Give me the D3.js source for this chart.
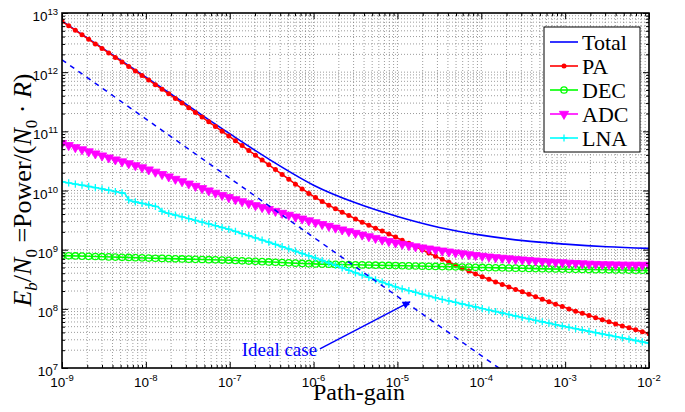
<!DOCTYPE html>
<html><head><meta charset="utf-8">
<script src="https://cdn.jsdelivr.net/npm/d3@7"></script>
<style>body{margin:0;background:#fff} svg{display:block}</style>
</head><body>
<svg id="chart" width="685" height="412"></svg>
<script>
// ---------------- data ----------------
const pathGain = [1e-9, 3.16e-9, 1e-8, 3.16e-8, 1e-7, 3.16e-7, 1e-6, 3.16e-6, 1e-5, 3.16e-5, 1e-4, 3.16e-4, 1e-3, 3.16e-3, 1e-2];
const totalPower = [7.32e12, 2.45e12, 8.24e11, 2.74e11, 9.12e10, 3.17e10, 1.23e10, 6.18e9, 3.63e9, 2.37e9, 1.76e9, 1.42e9, 1.24e9, 1.12e9, 1.05e9];
const paPower    = [7.24e12, 2.40e12, 7.94e11, 2.57e11, 8.13e10, 2.51e10, 7.94e9, 3.31e9, 1.58e9, 7.24e8, 3.55e8, 1.91e8, 1.05e8, 6.17e7, 3.80e7];
const decPower   = [7.94e8, 7.59e8, 7.24e8, 6.92e8, 6.61e8, 6.17e8, 5.75e8, 5.56e8, 5.37e8, 5.19e8, 5.01e8, 4.84e8, 4.68e8, 4.57e8, 4.47e8];
const adcPower   = [6.31e10, 3.80e10, 2.34e10, 1.32e10, 7.59e9, 4.68e9, 2.95e9, 1.91e9, 1.29e9, 9.77e8, 7.85e8, 6.76e8, 6.03e8, 5.62e8, 5.50e8];
const lnaGain    = [1e-9, 2.51e-9, 5.62e-9, 6.31e-9, 1e-8, 1.41e-8, 1.58e-8, 3.16e-8, 1e-7, 3.16e-7, 1e-6, 3.16e-6, 1e-5, 3.16e-5, 1e-4, 3.16e-4, 1e-3, 3.16e-3, 1e-2];
const lnaPower   = [1.41e10, 1.12e10, 8.91e9, 6.76e9, 5.89e9, 5.25e9, 4.37e9, 3.39e9, 2.19e9, 1.29e9, 7.41e8, 4.07e8, 2.29e8, 1.48e8, 1.02e8, 7.08e7, 5.01e7, 3.63e7, 2.63e7];
const idealGain  = [1e-9, 1e-2];
const idealPower = [1.62e12, 1.62e5];
const legendLabels = ["Total", "PA", "DEC", "ADC", "LNA"];
const xTickExponents = [-9, -8, -7, -6, -5, -4, -3, -2];
const yTickExponents = [7, 8, 9, 10, 11, 12, 13];
const annotationText = "Ideal case";
const annotationTextAt = [1.39e-7, 1.61e7];
const annotationTail = [1.19e-6, 2.11e7];
const annotationHead = [1.41e-5, 1.31e8];
const markerCount = 89;

// ---------------- layout ----------------
const L = 62, R = 649, T = 13, B = 368;
const svg = d3.select('#chart');
const x = d3.scaleLog().domain([1e-9, 1e-2]).range([L, R]);
const y = d3.scaleLog().domain([1e7, 1e13]).range([B, T]);
const SERIF = '"Liberation Serif", "Times New Roman", Times, serif';
const SANS = '"Liberation Sans", Arial, Helvetica, sans-serif';

const defs = svg.append('defs');
defs.append('clipPath').attr('id', 'clip').append('rect')
  .attr('x', L).attr('y', T).attr('width', R - L).attr('height', B - T);
defs.append('marker').attr('id', 'arrow').attr('viewBox', '0 0 10 10')
  .attr('refX', 9).attr('refY', 5).attr('markerWidth', 11).attr('markerHeight', 8)
  .attr('markerUnits', 'userSpaceOnUse').attr('orient', 'auto')
  .append('path').attr('d', 'M0,0L10,5L0,10Z').attr('fill', '#0000ff');

// grid values (major + minor)
const xGridVals = [], yGridVals = [];
for (let e = -9; e < -2; e++) for (let k = 1; k <= 9; k++) xGridVals.push(k * Math.pow(10, e));
xGridVals.push(1e-2);
for (let e = 7; e < 13; e++) for (let k = 1; k <= 9; k++) yGridVals.push(k * Math.pow(10, e));
yGridVals.push(1e13);
const xMajor = xTickExponents.map(e => Math.pow(10, e));
const yMajor = yTickExponents.map(e => Math.pow(10, e));
const xMinor = xGridVals.filter(v => !xMajor.some(m => Math.abs(m - v) / m < 1e-9));
const yMinor = yGridVals.filter(v => !yMajor.some(m => Math.abs(m - v) / m < 1e-9));

svg.append('rect').attr('x', L).attr('y', T).attr('width', R - L).attr('height', B - T).attr('fill', '#fff');

const grid = svg.append('g').attr('stroke', '#444').attr('stroke-width', 0.7)
  .attr('stroke-dasharray', '1,2').attr('opacity', 0.75);
grid.selectAll('.gx').data(xGridVals.filter(v => v > 1e-9 && v < 1e-2)).join('line')
  .attr('x1', d => x(d)).attr('x2', d => x(d)).attr('y1', T).attr('y2', B);
grid.selectAll('.gy').data(yGridVals.filter(v => v > 1e7 && v < 1e13)).join('line')
  .attr('y1', d => y(d)).attr('y2', d => y(d)).attr('x1', L).attr('x2', R);

// ---------------- series ----------------
const plot = svg.append('g').attr('clip-path', 'url(#clip)');
const markerGain = d3.range(markerCount).map(i => Math.pow(10, -9 + 7 * i / (markerCount - 1)));

function sampleAlong(node) {
  const len = node.getTotalLength();
  const pts = [];
  for (let s = 0; s <= len; s += 0.5) { const p = node.getPointAtLength(s); pts.push([p.x, p.y]); }
  const p = node.getPointAtLength(len); pts.push([p.x, p.y]);
  return pts;
}
function yAtX(pts, px) {
  let lo = 0, hi = pts.length - 1;
  if (px <= pts[0][0]) return pts[0][1];
  if (px >= pts[hi][0]) return pts[hi][1];
  while (hi - lo > 1) { const m = (lo + hi) >> 1; if (pts[m][0] <= px) lo = m; else hi = m; }
  const a = pts[lo], b = pts[hi];
  const t = b[0] === a[0] ? 0 : (px - a[0]) / (b[0] - a[0]);
  return a[1] + t * (b[1] - a[1]);
}

const series = [
  { name: 'Total', xs: pathGain, ys: totalPower, color: '#0000ff', curve: d3.curveMonotoneX, marker: null, width: 1.6 },
  { name: 'PA', xs: pathGain, ys: paPower, color: '#ff0000', curve: d3.curveMonotoneX, marker: 'dot', width: 1.6 },
  { name: 'DEC', xs: pathGain, ys: decPower, color: '#00ff00', curve: d3.curveMonotoneX, marker: 'circle', width: 1.6 },
  { name: 'ADC', xs: pathGain, ys: adcPower, color: '#ff00ff', curve: d3.curveMonotoneX, marker: 'tri', width: 1.6 },
  { name: 'LNA', xs: lnaGain, ys: lnaPower, color: '#00ffff', curve: d3.curveLinear, marker: 'plus', width: 1.6 }
];

function drawMarker(g, type, color, cx, cy) {
  if (type === 'dot') {
    g.append('circle').attr('cx', cx).attr('cy', cy).attr('r', 2.5).attr('fill', color);
  } else if (type === 'circle') {
    g.append('circle').attr('cx', cx).attr('cy', cy).attr('r', 3.2).attr('fill', 'none')
      .attr('stroke', color).attr('stroke-width', 1.3);
  } else if (type === 'tri') {
    g.append('path').attr('d', d3.symbol(d3.symbolTriangle, 38)())
      .attr('transform', `translate(${cx},${cy}) rotate(180)`)
      .attr('fill', color).attr('stroke', color).attr('stroke-width', 0.8);
  } else if (type === 'plus') {
    g.append('path').attr('d', 'M-3.6,0H3.6M0,-3.6V3.6').attr('transform', `translate(${cx},${cy})`)
      .attr('stroke', color).attr('stroke-width', 1.3).attr('fill', 'none');
  }
}

series.forEach(s => {
  const data = s.xs.map((v, i) => [v, s.ys[i]]);
  const line = d3.line().x(d => x(d[0])).y(d => y(d[1])).curve(s.curve);
  const path = plot.append('path').datum(data).attr('d', line)
    .attr('fill', 'none').attr('stroke', s.color).attr('stroke-width', s.width);
  if (s.marker) {
    const pts = sampleAlong(path.node());
    const mg = plot.append('g');
    markerGain.forEach(g => { const px = x(g); drawMarker(mg, s.marker, s.color, px, yAtX(pts, px)); });
  }
});

// ideal case dashed line
plot.append('path').datum(idealGain.map((v, i) => [v, idealPower[i]]))
  .attr('d', d3.line().x(d => x(d[0])).y(d => y(d[1])))
  .attr('fill', 'none').attr('stroke', '#0000ff').attr('stroke-width', 1.5)
  .attr('stroke-dasharray', '5,5');

// annotation
svg.append('line')
  .attr('x1', x(annotationTail[0])).attr('y1', y(annotationTail[1]))
  .attr('x2', x(annotationHead[0])).attr('y2', y(annotationHead[1]))
  .attr('stroke', '#0000ff').attr('stroke-width', 1.5).attr('marker-end', 'url(#arrow)');
svg.append('text').attr('x', x(annotationTextAt[0])).attr('y', y(annotationTextAt[1]))
  .attr('fill', '#0000ff').style('font-family', SERIF).style('font-size', '19px')
  .text(annotationText);

// ---------------- axes ----------------
const axG = svg.append('g');
function addAxis(axisFn, vals, size, transform) {
  const a = axisFn.tickValues(vals).tickSize(size).tickSizeOuter(0).tickFormat('');
  const g = axG.append('g').attr('transform', transform).call(a);
  g.select('.domain').remove();
  g.selectAll('line').attr('stroke', '#000').attr('stroke-width', 1);
}
addAxis(d3.axisBottom(x), xMajor, -6, `translate(0,${B})`);
addAxis(d3.axisBottom(x), xMinor, -3, `translate(0,${B})`);
addAxis(d3.axisTop(x), xMajor, -6, `translate(0,${T})`);
addAxis(d3.axisTop(x), xMinor, -3, `translate(0,${T})`);
addAxis(d3.axisLeft(y), yMajor, -6, `translate(${L},0)`);
addAxis(d3.axisLeft(y), yMinor, -3, `translate(${L},0)`);
addAxis(d3.axisRight(y), yMajor, -6, `translate(${R},0)`);
addAxis(d3.axisRight(y), yMinor, -3, `translate(${R},0)`);
svg.append('rect').attr('x', L).attr('y', T).attr('width', R - L).attr('height', B - T)
  .attr('fill', 'none').attr('stroke', '#000').attr('stroke-width', 1.6);

// tick labels
xTickExponents.forEach(e => {
  const t = svg.append('text').attr('x', x(Math.pow(10, e))).attr('y', B + 19)
    .attr('text-anchor', 'middle').style('font-family', SANS).style('font-size', '13.5px');
  t.append('tspan').text('10');
  t.append('tspan').attr('dy', -6.5).style('font-size', '9.5px').text(String(e));
});
yTickExponents.forEach(e => {
  const t = svg.append('text').attr('x', L - 4).attr('y', y(Math.pow(10, e)) + 8)
    .attr('text-anchor', 'end').style('font-family', SANS).style('font-size', '13.5px');
  t.append('tspan').text('10');
  t.append('tspan').attr('dy', -6).style('font-size', '9.5px').text(String(e));
});

// axis titles
svg.append('text').attr('x', 359).attr('y', 400).attr('text-anchor', 'middle')
  .style('font-family', SERIF).style('font-size', '24px').text('Path-gain');

const yt = svg.append('text').attr('transform', 'translate(31,190) rotate(-90)')
  .attr('text-anchor', 'middle').style('font-family', SERIF).style('font-size', '26px');
const parts = [
  ['E', 'italic', 0], ['b', 'italic', 1], ['/', 'normal', 0], ['N', 'italic', 0], ['0', 'normal', 1],
  [' =Power/(', 'normal', 0], ['N', 'italic', 0], ['0', 'normal', 1], [' \u00B7 ', 'normal', 0],
  ['R', 'italic', 0], [')', 'normal', 0]
];
let prevSub = 0;
parts.forEach(([txt, st, sub]) => {
  const dy = (sub ? 6 : 0) - (prevSub ? 6 : 0);
  const ts = yt.append('tspan').attr('font-style', st).text(txt);
  if (dy) ts.attr('dy', dy);
  if (sub) ts.style('font-size', '17px');
  prevSub = sub;
});

// ---------------- legend ----------------
const lg = svg.append('g');
const lgX = 544, lgY = 27, lgW = 96, lgH = 125, rowH = 24;
lg.append('rect').attr('x', lgX).attr('y', lgY).attr('width', lgW).attr('height', lgH)
  .attr('fill', '#fff').attr('stroke', '#000').attr('stroke-width', 1);
series.forEach((s, i) => {
  const cy = lgY + 15 + i * rowH;
  lg.append('line').attr('x1', lgX + 6).attr('x2', lgX + 34).attr('y1', cy).attr('y2', cy)
    .attr('stroke', s.color).attr('stroke-width', s.width);
  if (s.marker) drawMarker(lg, s.marker, s.color, lgX + 20, cy);
  lg.append('text').attr('x', lgX + 38).attr('y', cy + 8)
    .style('font-family', SERIF).style('font-size', '22px').attr('fill', '#000').text(legendLabels[i]);
});
</script>
</body></html>
